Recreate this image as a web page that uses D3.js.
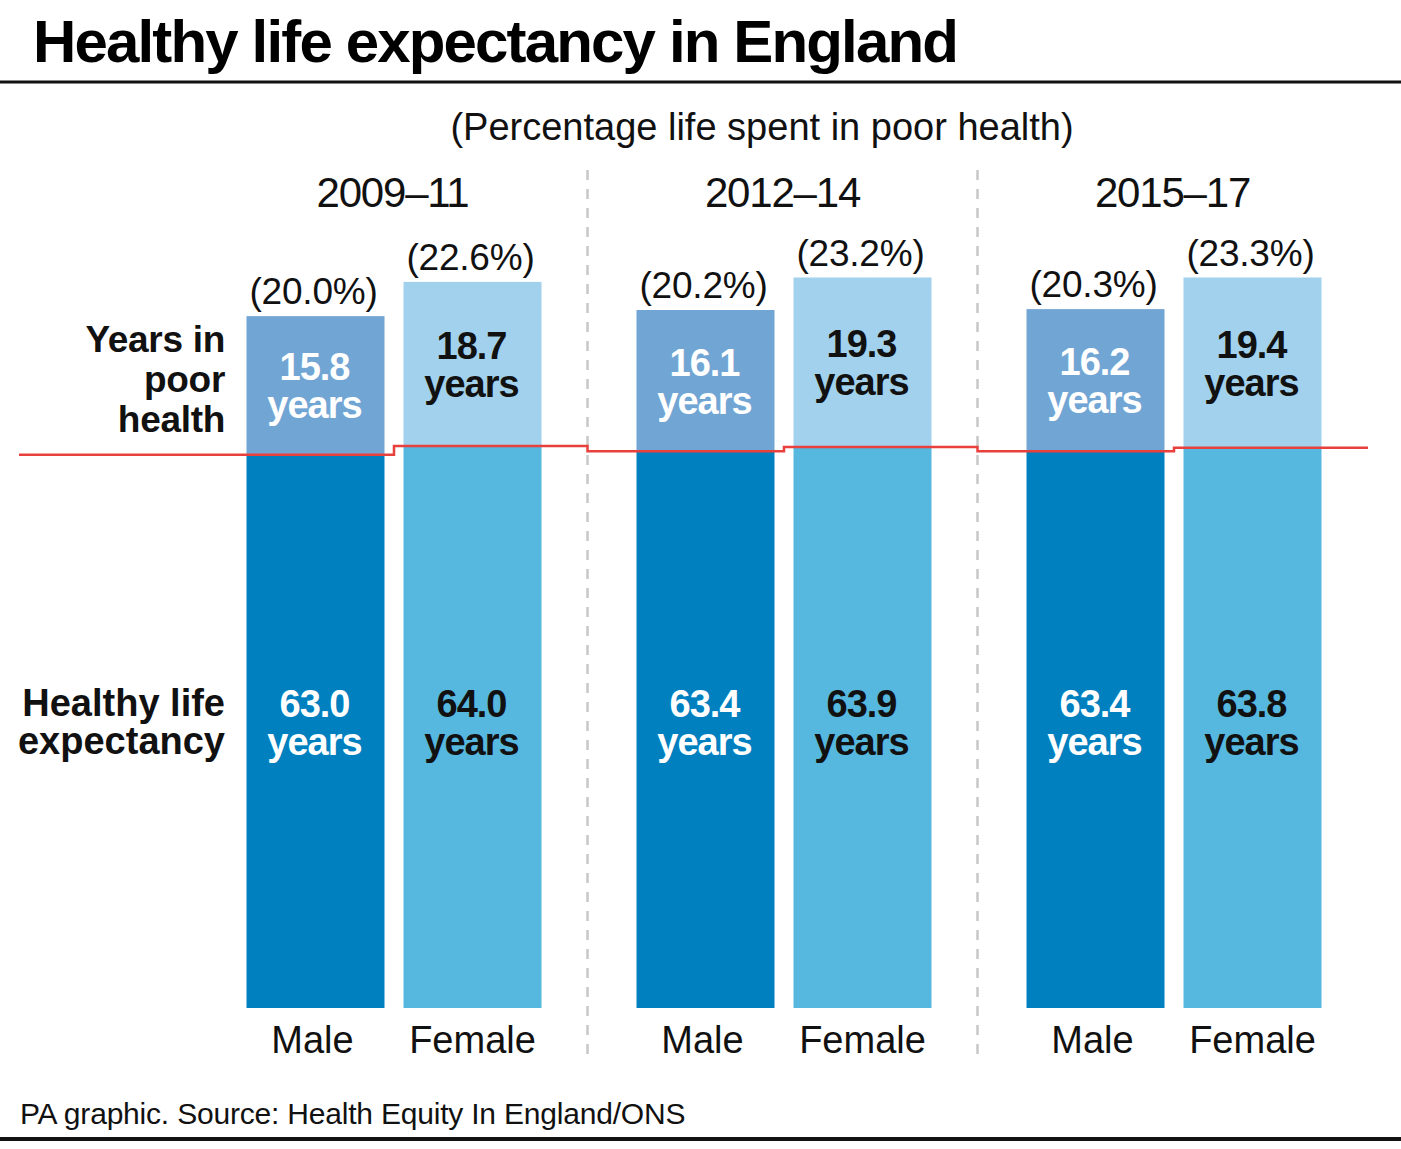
<!DOCTYPE html>
<html><head><meta charset="utf-8">
<script src="https://cdn.jsdelivr.net/npm/d3@7"></script>
<style>
html,body{margin:0;padding:0;background:#fff;}
svg{display:block;font-family:"Liberation Sans",Arial,sans-serif;}
</style></head>
<body>
<script>
const periods = ["2009–11", "2012–14", "2015–17"];
const sexes = ["Male", "Female"];
const healthyMale = [63.0, 63.4, 63.4];
const healthyFemale = [64.0, 63.9, 63.8];
const poorMale = [15.8, 16.1, 16.2];
const poorFemale = [18.7, 19.3, 19.4];
const pctMale = [20.0, 20.2, 20.3];
const pctFemale = [22.6, 23.2, 23.3];

const W = 1401, H = 1149;
const svg = d3.select("body").append("svg").attr("width", W).attr("height", H);

const colors = {
  Male: {healthy: "#0080bf", poor: "#71a5d4", text: "#ffffff"},
  Female: {healthy: "#56b7df", poor: "#a1d1ec", text: "#111111"}
};

const data = [];
periods.forEach((p, i) => {
  data.push({period: p, sex: "Male", healthy: healthyMale[i], poor: poorMale[i], pct: pctMale[i]});
  data.push({period: p, sex: "Female", healthy: healthyFemale[i], poor: poorFemale[i], pct: pctFemale[i]});
});

const x0 = d3.scaleBand().domain(periods).range([198.5, 1368.5]);
const x1 = d3.scaleBand().domain(sexes).range([48, 343]).paddingInner(0.121);
const y = d3.scaleLinear().domain([0, 90]).range([1008, 1008 - 90 * 8.78]);
const bw = x1.bandwidth();
const bx = d => x0(d.period) + x1(d.sex);
const sepX = p => x0(p) - 1;

// Title
svg.append("text").attr("x", 33).attr("y", 62)
  .attr("font-size", 60).attr("font-weight", "bold").attr("letter-spacing", -1.85)
  .attr("fill", "#000").text("Healthy life expectancy in England");
svg.append("rect").attr("x", 0).attr("y", 80.5).attr("width", W).attr("height", 3).attr("fill", "#111");

// Subtitle
svg.append("text").attr("x", 762).attr("y", 140).attr("text-anchor", "middle")
  .attr("font-size", 38).attr("letter-spacing", 0).attr("fill", "#111")
  .text("(Percentage life spent in poor health)");

// Separators
[1, 2].forEach(i => {
  const sx = sepX(periods[i]);
  svg.append("line").attr("x1", sx).attr("x2", sx).attr("y1", 170).attr("y2", 1062)
    .attr("stroke", "#c8c8c8").attr("stroke-width", 2.5).attr("stroke-dasharray", "10,9");
});

// Group labels
svg.selectAll(".grp").data(periods).enter().append("text")
  .attr("x", p => x0(p) + 194).attr("y", 207).attr("text-anchor", "middle")
  .attr("font-size", 42).attr("letter-spacing", -1.2).attr("fill", "#111").text(p => p);

// Bars
const g = svg.append("g");
g.selectAll(".h").data(data).enter().append("rect")
  .attr("x", bx).attr("width", bw)
  .attr("y", d => y(d.healthy)).attr("height", d => y(0) - y(d.healthy))
  .attr("fill", d => colors[d.sex].healthy);
g.selectAll(".p").data(data).enter().append("rect")
  .attr("x", bx).attr("width", bw)
  .attr("y", d => y(d.healthy + d.poor)).attr("height", d => y(d.healthy) - y(d.healthy + d.poor))
  .attr("fill", d => colors[d.sex].poor);

// Red step line
const pts = [];
periods.forEach((p, i) => {
  const m = data[i * 2], f = data[i * 2 + 1];
  const start = i === 0 ? 19 : sepX(p);
  const mid = x0(p) + x1("Female") - x1.step() * x1.paddingInner() / 2;
  const end = i === periods.length - 1 ? 1368 : sepX(periods[i + 1]);
  pts.push([start, y(m.healthy)], [mid, y(m.healthy)], [mid, y(f.healthy)], [end, y(f.healthy)]);
});
svg.append("path").attr("d", d3.line()(pts)).attr("fill", "none")
  .attr("stroke", "#e8403c").attr("stroke-width", 2.5);

// Percent labels
svg.selectAll(".pct").data(data).enter().append("text")
  .attr("x", d => bx(d) + bw / 2 - 2).attr("y", d => y(d.healthy + d.poor) - 12)
  .attr("text-anchor", "middle").attr("font-size", 37).attr("letter-spacing", -0.2)
  .attr("fill", "#111").text(d => "(" + d.pct.toFixed(1) + "%)");

// Poor health value labels
const pl = svg.selectAll(".pl").data(data).enter().append("text")
  .attr("text-anchor", "middle").attr("font-size", 38).attr("font-weight", "bold")
  .attr("letter-spacing", -1).attr("fill", d => colors[d.sex].text);
pl.each(function(d) {
  const c = (y(d.healthy) + y(d.healthy + d.poor)) / 2;
  const t = d3.select(this);
  const cx = bx(d) + bw / 2 - 1;
  t.append("tspan").attr("x", cx).attr("y", c - 5).text(d.poor.toFixed(1));
  t.append("tspan").attr("x", cx).attr("y", c + 33).text("years");
});

// Healthy value labels
const hl = svg.selectAll(".hl").data(data).enter().append("text")
  .attr("text-anchor", "middle").attr("font-size", 38).attr("font-weight", "bold")
  .attr("letter-spacing", -1).attr("fill", d => colors[d.sex].text);
hl.each(function(d) {
  const c = y(31.5) - 8;
  const t = d3.select(this);
  const cx = bx(d) + bw / 2 - 1;
  t.append("tspan").attr("x", cx).attr("y", c - 6).text(d.healthy.toFixed(1));
  t.append("tspan").attr("x", cx).attr("y", c + 32).text("years");
});

// Left labels
const ll1 = svg.append("text").attr("text-anchor", "end").attr("font-size", 37)
  .attr("font-weight", "bold").attr("letter-spacing", -0.3).attr("fill", "#111");
["Years in", "poor", "health"].forEach((s, i) =>
  ll1.append("tspan").attr("x", 225).attr("y", 352 + i * 40).text(s));
const ll2 = svg.append("text").attr("text-anchor", "end").attr("font-size", 38)
  .attr("font-weight", "bold").attr("letter-spacing", 0).attr("fill", "#111");
["Healthy life", "expectancy"].forEach((s, i) =>
  ll2.append("tspan").attr("x", 225).attr("y", 716 + i * 38).text(s));

// Sex labels
svg.selectAll(".sx").data(data).enter().append("text")
  .attr("x", d => bx(d) + bw / 2 - (d.sex === "Male" ? 3 : 0)).attr("y", 1053).attr("text-anchor", "middle")
  .attr("font-size", 38).attr("letter-spacing", 0).attr("fill", "#111").text(d => d.sex);

// Source
svg.append("text").attr("x", 20).attr("y", 1124).attr("font-size", 30)
  .attr("letter-spacing", -0.2).attr("fill", "#111")
  .text("PA graphic. Source: Health Equity In England/ONS");
svg.append("rect").attr("x", 0).attr("y", 1137).attr("width", W).attr("height", 4).attr("fill", "#111");
</script>
</body></html>
